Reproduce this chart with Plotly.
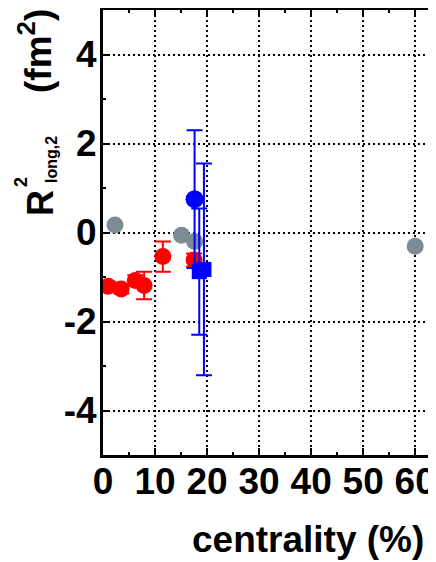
import plotly.graph_objects as go

# ---- data ----
red_x = [1.0, 3.5, 6.2, 7.9, 11.5, 17.5]
red_y = [-1.21, -1.27, -1.08, -1.19, -0.54, -0.62]
red_err = [0.10, 0.10, 0.12, 0.31, 0.34, 0.15]

gray_x = [2.3, 15.1, 17.6, 60.0]
gray_y = [0.17, -0.06, -0.20, -0.31]

blue_circ_x = [17.6]
blue_circ_y = [0.75]
blue_circ_err = [1.55]

blue_sq_x = [18.5, 19.4]
blue_sq_y = [-0.88, -0.83]
blue_sq_err = [1.42, 2.38]

x_ticks = [0, 10, 20, 30, 40, 50, 60]
y_ticks = [-4, -2, 0, 2, 4]

FONT = "Liberation Sans, Arial, sans-serif"
OFF = 8  # page body margin
W, H = 428, 554
L, R, T, B = 95, 0, 2, 107


def px(xp):
    # screen pixel -> paper fraction
    return (xp - OFF - L) / (W - L - R)


def py(yp):
    return (H - B - (yp - OFF)) / (H - B - T)


fig = go.Figure()

fig.add_trace(go.Scatter(
    x=gray_x, y=gray_y, mode="markers",
    marker=dict(symbol="circle", size=17, color="#7B8C96"),
    showlegend=False, hoverinfo="skip"))

fig.add_trace(go.Scatter(
    x=red_x, y=red_y, mode="markers",
    marker=dict(symbol="circle", size=17, color="#FF0000"),
    error_y=dict(type="data", array=red_err, color="#FF0000", thickness=2, width=8),
    showlegend=False))

fig.add_trace(go.Scatter(
    x=blue_circ_x, y=blue_circ_y, mode="markers",
    marker=dict(symbol="circle", size=18, color="#0000FF"),
    error_y=dict(type="data", array=blue_circ_err, color="#0000FF", thickness=2, width=8),
    showlegend=False))

fig.add_trace(go.Scatter(
    x=blue_sq_x, y=blue_sq_y, mode="markers",
    marker=dict(symbol="square", size=15, color="#0000FF"),
    error_y=dict(type="data", array=blue_sq_err, color="#0000FF", thickness=2, width=8),
    showlegend=False))

# invisible trace to carry the right-hand tick axis
fig.add_trace(go.Scatter(
    x=gray_x, y=gray_y, mode="markers", yaxis="y2",
    marker=dict(opacity=0), showlegend=False, hoverinfo="skip"))

tickfont = dict(family=FONT, size=37, color="black", weight="bold")

fig.update_layout(
    width=W, height=H,
    margin=dict(l=L, r=R, t=T, b=B, pad=0, autoexpand=False),
    paper_bgcolor="white", plot_bgcolor="white",
    xaxis=dict(
        range=[0, 64], tickmode="array", tickvals=x_ticks,
        ticktext=[str(v) for v in x_ticks],
        ticks="inside", ticklen=7, tickwidth=2, tickcolor="black",
        showline=True, linewidth=3, linecolor="black", mirror="ticks",
        showgrid=True, gridcolor="black", gridwidth=2, griddash="2px,3px",
        zeroline=False, tickfont=tickfont, ticklabelstandoff=-8,
        automargin=False,
        minor=dict(dtick=5, tick0=0, ticks="inside", ticklen=3, tickwidth=2,
                   tickcolor="black", showgrid=False),
    ),
    yaxis=dict(
        range=[-5, 5], tickmode="array", tickvals=y_ticks,
        ticktext=[str(v) for v in y_ticks],
        ticks="inside", ticklen=7, tickwidth=2, tickcolor="black",
        showline=True, linewidth=3, linecolor="black", mirror=False,
        showgrid=True, gridcolor="black", gridwidth=2, griddash="2px,3px",
        zeroline=False, tickfont=tickfont, ticklabelstandoff=-4,
        automargin=False,
        minor=dict(dtick=2, tick0=-5, ticks="inside", ticklen=3, tickwidth=2,
                   tickcolor="black", showgrid=False),
    ),
    yaxis2=dict(
        range=[-5, 5], overlaying="y", side="right",
        tickmode="array", tickvals=y_ticks,
        ticks="inside", ticklen=7, tickwidth=2, tickcolor="black",
        showline=False, showgrid=False, zeroline=False, showticklabels=False,
        automargin=False,
        minor=dict(dtick=2, tick0=-5, ticks="inside", ticklen=3, tickwidth=2,
                   tickcolor="black", showgrid=False),
    ),
    annotations=[
        dict(text="centrality (%)", x=px(308), y=py(539), xref="paper", yref="paper",
             xanchor="center", yanchor="middle", showarrow=False,
             font=dict(family=FONT, size=37, color="black", weight="bold")),
        dict(text="R", x=px(40), y=py(203), xref="paper", yref="paper",
             xanchor="center", yanchor="middle", showarrow=False, textangle=-90,
             font=dict(family=FONT, size=36, color="black", weight="bold")),
        dict(text="2", x=px(21), y=py(182), xref="paper", yref="paper",
             xanchor="center", yanchor="middle", showarrow=False, textangle=-90,
             font=dict(family=FONT, size=18, color="black", weight="bold")),
        dict(text="long,2", x=px(51), y=py(160), xref="paper", yref="paper",
             xanchor="center", yanchor="middle", showarrow=False, textangle=-90,
             font=dict(family=FONT, size=16, color="black", weight="bold")),
        dict(text="(fm<sup>2</sup>)", x=px(36), y=py(51), xref="paper", yref="paper",
             xanchor="center", yanchor="middle", showarrow=False, textangle=-90,
             font=dict(family=FONT, size=37, color="black", weight="bold")),
    ],
)

fig.write_html("out.html")
